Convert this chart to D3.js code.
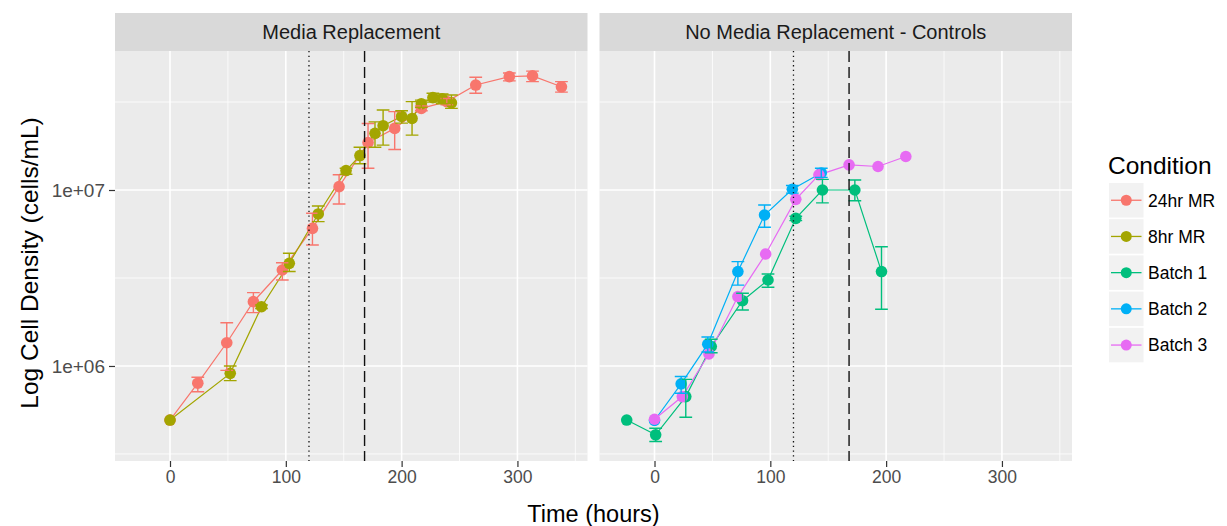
<!DOCTYPE html>
<html>
<head>
<meta charset="utf-8">
<script src="https://cdn.jsdelivr.net/npm/d3@7"></script>
<style>
  body { margin: 0; background: #fff; }
  text { font-family: "Liberation Sans", Arial, sans-serif; }
</style>
</head>
<body>
<svg id="chart" width="1227" height="526"></svg>
<script>
// ---- data -------------------------------------------------------------
const conditions = ["24hr MR", "8hr MR", "Batch 1", "Batch 2", "Batch 3"];
const conditionColors = ["#F8766D", "#A3A500", "#00BF7D", "#00B0F6", "#E76BF3"];
const facetTitles = ["Media Replacement", "No Media Replacement - Controls"];
const conditionFacet = [0, 0, 1, 1, 1];

const xTickValues = [0, 100, 200, 300];
const xTickLabels = ["0", "100", "200", "300"];
const yTickValues = [1e6, 1e7];
const yTickLabels = ["1e+06", "1e+07"];

// 24 hour media replacement
const mr24Hours = [0, 24, 49, 72, 97, 123, 146, 171, 194, 217, 239, 264, 293, 313, 338];
const mr24Mean  = [4.93e5, 7.98e5, 1.355e6, 2.32e6, 3.51e6, 6.05e6, 1.045e7, 1.86e7, 2.24e7, 2.91e7, 3.18e7, 3.95e7, 4.41e7, 4.45e7, 3.86e7];
const mr24Low   = [4.93e5, 7.14e5, 9.44e5, 2.01e6, 3.08e6, 4.87e6, 8.32e6, 1.33e7, 1.70e7, 2.82e7, 3.05e7, 3.55e7, 4.17e7, 4.13e7, 3.60e7];
const mr24High  = [4.93e5, 8.63e5, 1.76e6, 2.61e6, 3.86e6, 7.38e6, 1.22e7, 2.39e7, 2.79e7, 3.00e7, 3.31e7, 4.37e7, 4.62e7, 4.74e7, 4.13e7];

// 8 hour media replacement
const mr8Hours = [0, 52, 79, 103, 128, 152, 164, 177, 184, 200, 209, 217, 227, 235, 243];
const mr8Mean  = [4.93e5, 9.08e5, 2.17e6, 3.83e6, 7.31e6, 1.29e7, 1.57e7, 2.10e7, 2.32e7, 2.62e7, 2.55e7, 3.09e7, 3.35e7, 3.30e7, 3.13e7];
const mr8Low   = [4.93e5, 8.26e5, 2.12e6, 3.44e6, 6.61e6, 1.23e7, 1.41e7, 1.75e7, 1.80e7, 2.40e7, 2.05e7, 2.95e7, 3.16e7, 3.09e7, 2.91e7];
const mr8High  = [4.93e5, 1.00e6, 2.22e6, 4.37e6, 8.11e6, 1.33e7, 1.75e7, 2.44e7, 2.85e7, 2.82e7, 3.18e7, 3.24e7, 3.55e7, 3.51e7, 3.47e7];

// control batches without media replacement
const batch1Hours = [-24, 1, 27, 49, 76, 98, 122, 145, 173, 196];
const batch1Mean  = [4.93e5, 4.06e5, 6.70e5, 1.29e6, 2.35e6, 3.08e6, 6.90e6, 1.00e7, 1.00e7, 3.44e6];
const batch1Low   = [4.93e5, 3.72e5, 5.11e5, 1.19e6, 2.08e6, 2.80e6, 6.70e6, 8.45e6, 8.69e6, 2.10e6];
const batch1High  = [4.93e5, 4.43e5, 8.39e5, 1.42e6, 2.59e6, 3.33e6, 7.10e6, 1.15e7, 1.14e7, 4.76e6];

const batch2Hours = [0, 23, 46, 72, 95, 119, 144];
const batch2Mean  = [4.90e5, 7.91e5, 1.33e6, 3.44e6, 7.21e6, 1.01e7, 1.25e7];
const batch2Low   = [4.90e5, 7.00e5, 1.20e6, 2.88e6, 6.14e6, 9.60e6, 1.18e7];
const batch2High  = [4.90e5, 8.71e5, 1.46e6, 3.92e6, 8.22e6, 1.06e7, 1.33e7];

const batch3Hours = [0, 24, 47, 72, 96, 122, 142, 168, 193, 217];
const batch3Mean  = [4.98e5, 6.70e5, 1.17e6, 2.48e6, 4.33e6, 8.85e6, 1.22e7, 1.39e7, 1.36e7, 1.55e7];
const batch3Low   = batch3Mean;
const batch3High  = batch3Mean;

// reference times (hours)
const dottedLineHour = 120;
const dashedLineHour = 168;

const seriesHours = [mr24Hours, mr8Hours, batch1Hours, batch2Hours, batch3Hours];
const seriesMean  = [mr24Mean, mr8Mean, batch1Mean, batch2Mean, batch3Mean];
const seriesLow   = [mr24Low, mr8Low, batch1Low, batch2Low, batch3Low];
const seriesHigh  = [mr24High, mr8High, batch1High, batch2High, batch3High];

const series = conditions.map((name, i) => ({
  name,
  color: conditionColors[i],
  facet: conditionFacet[i],
  points: seriesHours[i].map((h, j) => ({
    hour: h, mean: seriesMean[i][j], low: seriesLow[i][j], high: seriesHigh[i][j]
  }))
}));

// ---- layout -----------------------------------------------------------
const svg = d3.select("#chart");
const panelTop = 51, panelBottom = 461, stripTop = 13;
const panels = [
  { x0: 115, x1: 587.5 },
  { x0: 599.5, x1: 1072 }
];
const xDomain = [-47.5, 360.5];
const y = d3.scaleLog().domain([Math.pow(10, 5.46), Math.pow(10, 7.79)]).range([panelBottom, panelTop]);
const yMinor = [Math.pow(10, 5.5), Math.pow(10, 6.5), Math.pow(10, 7.5)];
const xMinor = [50, 150, 250, 350];
const capHalfHours = 5.5;

panels.forEach((p, pi) => {
  const x = d3.scaleLinear().domain(xDomain).range([p.x0, p.x1]);
  p.x = x;
  const g = svg.append("g");

  // strip
  g.append("rect").attr("x", p.x0).attr("y", stripTop)
    .attr("width", p.x1 - p.x0).attr("height", panelTop - stripTop)
    .attr("fill", "#D9D9D9");
  g.append("text").attr("x", (p.x0 + p.x1) / 2).attr("y", (stripTop + panelTop) / 2 + 7)
    .attr("text-anchor", "middle").attr("font-size", 20).attr("fill", "#1A1A1A")
    .text(facetTitles[pi]);

  // panel background
  g.append("rect").attr("x", p.x0).attr("y", panelTop)
    .attr("width", p.x1 - p.x0).attr("height", panelBottom - panelTop)
    .attr("fill", "#EBEBEB");

  // minor grid
  g.selectAll(".xminor").data(xMinor.filter(v => v > xDomain[0] && v < xDomain[1])).enter()
    .append("line").attr("x1", d => x(d)).attr("x2", d => x(d))
    .attr("y1", panelTop).attr("y2", panelBottom)
    .attr("stroke", "#fff").attr("stroke-width", 0.8);
  g.selectAll(".yminor").data(yMinor).enter()
    .append("line").attr("x1", p.x0).attr("x2", p.x1)
    .attr("y1", d => y(d)).attr("y2", d => y(d))
    .attr("stroke", "#fff").attr("stroke-width", 0.8);
  // major grid
  g.selectAll(".xmajor").data(xTickValues).enter()
    .append("line").attr("x1", d => x(d)).attr("x2", d => x(d))
    .attr("y1", panelTop).attr("y2", panelBottom)
    .attr("stroke", "#fff").attr("stroke-width", 1.6);
  g.selectAll(".ymajor").data(yTickValues).enter()
    .append("line").attr("x1", p.x0).attr("x2", p.x1)
    .attr("y1", d => y(d)).attr("y2", d => y(d))
    .attr("stroke", "#fff").attr("stroke-width", 1.6);

  // x axis
  const xAxis = d3.axisBottom(x).tickValues(xTickValues)
    .tickFormat((d, i) => xTickLabels[i]).tickSize(6).tickPadding(4);
  const ax = g.append("g").attr("transform", `translate(0,${panelBottom})`).call(xAxis);
  ax.select(".domain").remove();
  ax.selectAll(".tick line").attr("stroke", "#333").attr("stroke-width", 1.2);
  ax.selectAll(".tick text").attr("fill", "#4D4D4D").attr("font-size", 17.5)
    .attr("font-family", "Liberation Sans, Arial, sans-serif");

  const seriesHere = series.filter(s => s.facet === pi);
  const line = d3.line().x(d => x(d.hour)).y(d => y(d.mean));

  // lines
  seriesHere.forEach(s => {
    g.append("path").datum(s.points).attr("d", line)
      .attr("fill", "none").attr("stroke", s.color).attr("stroke-width", 1.2);
  });
  // points
  seriesHere.forEach(s => {
    g.selectAll(null).data(s.points).enter().append("circle")
      .attr("cx", d => x(d.hour)).attr("cy", d => y(d.mean)).attr("r", 5.8)
      .attr("fill", s.color);
  });
  // error bars
  seriesHere.forEach(s => {
    const eb = s.points.filter(d => d.high > d.low * 1.001);
    const ge = g.append("g").attr("stroke", s.color).attr("stroke-width", 1.4).attr("fill", "none");
    ge.selectAll(null).data(eb).enter().append("path")
      .attr("d", d => {
        const xl = x(d.hour - capHalfHours), xr = x(d.hour + capHalfHours), xc = x(d.hour);
        const yt = y(d.high), yb = y(d.low);
        return `M${xl},${yt}H${xr}M${xc},${yt}V${yb}M${xl},${yb}H${xr}`;
      });
  });

  // reference lines
  g.append("line").attr("x1", x(dottedLineHour)).attr("x2", x(dottedLineHour))
    .attr("y1", panelTop).attr("y2", panelBottom)
    .attr("stroke", "#111").attr("stroke-width", 1.3).attr("stroke-dasharray", "1.3,3.4");
  g.append("line").attr("x1", x(dashedLineHour)).attr("x2", x(dashedLineHour))
    .attr("y1", panelTop).attr("y2", panelBottom)
    .attr("stroke", "#111").attr("stroke-width", 1.4).attr("stroke-dasharray", "11,5");
});

// y axis (left panel only)
const yAxis = d3.axisLeft(y).tickValues(yTickValues)
  .tickFormat((d, i) => yTickLabels[i]).tickSize(6).tickPadding(4);
const ay = svg.append("g").attr("transform", `translate(${panels[0].x0},0)`).call(yAxis);
ay.select(".domain").remove();
ay.selectAll(".tick line").attr("stroke", "#333").attr("stroke-width", 1.2);
ay.selectAll(".tick text").attr("fill", "#4D4D4D").attr("font-size", 19)
  .attr("font-family", "Liberation Sans, Arial, sans-serif");

// axis titles
svg.append("text").attr("x", (panels[0].x0 + panels[1].x1) / 2).attr("y", 522)
  .attr("text-anchor", "middle").attr("font-size", 23.5).attr("fill", "#000")
  .text("Time (hours)");
svg.append("text").attr("transform", `translate(38,${(panelTop + panelBottom) / 2 + 7}) rotate(-90)`)
  .attr("text-anchor", "middle").attr("font-size", 24.5).attr("fill", "#000")
  .text("Log Cell Density (cells/mL)");

// legend
const legend = svg.append("g").attr("transform", "translate(1109,183)");
legend.append("text").attr("x", -1).attr("y", -9).attr("font-size", 24.5).attr("fill", "#000")
  .text("Condition");
const keyH = 36.2;
conditions.forEach((c, i) => {
  const k = legend.append("g").attr("transform", `translate(0,${i * keyH})`);
  k.append("rect").attr("width", 34.5).attr("height", 34.5).attr("fill", "#F2F2F2");
  k.append("line").attr("x1", 2).attr("x2", 32.5).attr("y1", 17.25).attr("y2", 17.25)
    .attr("stroke", conditionColors[i]).attr("stroke-width", 1.3);
  k.append("circle").attr("cx", 17.25).attr("cy", 17.25).attr("r", 5.5).attr("fill", conditionColors[i]);
  k.append("text").attr("x", 39).attr("y", 23.5).attr("font-size", 17.5).attr("fill", "#000").text(c);
});
</script>
</body>
</html>
